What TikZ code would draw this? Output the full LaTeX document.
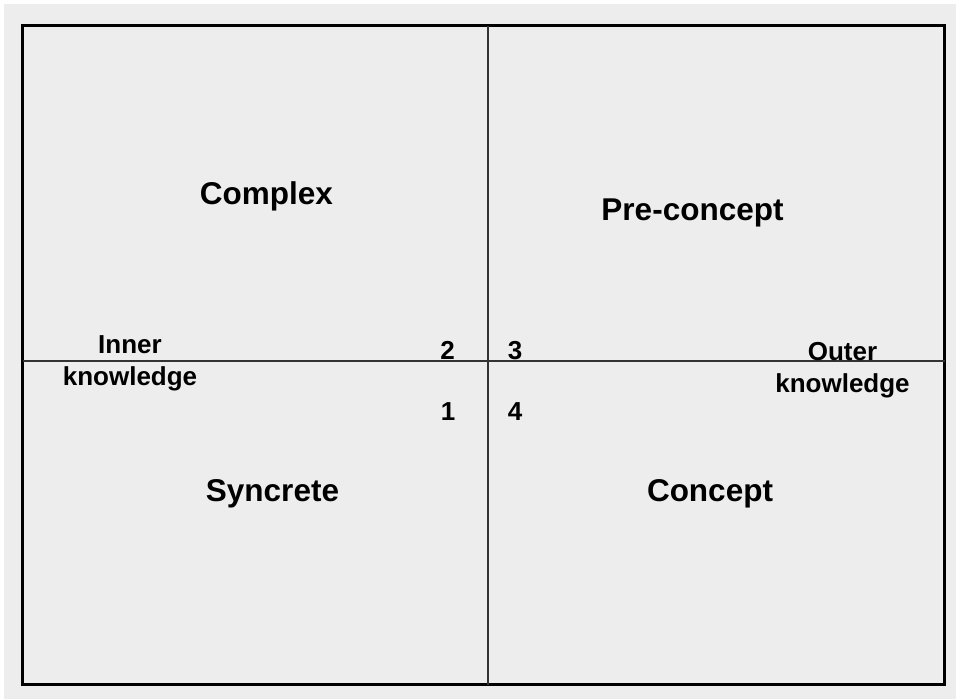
\documentclass[tikz,border=0pt]{standalone}
\usepackage{fontspec}
\setmainfont{Liberation Sans}
\begin{document}
\begin{tikzpicture}[x=1pt,y=-1pt,
  frame/.style={draw=black,line width=3pt},
  axis/.style={draw=black!80,line width=2pt},
  quadlabel/.style={font=\bfseries\fontsize{31.5}{36}\selectfont,inner sep=0pt,anchor=base},
  sidelabel/.style={font=\bfseries\fontsize{26}{32}\selectfont,inner sep=0pt,align=center,anchor=base},
  numlabel/.style={font=\bfseries\fontsize{26}{30}\selectfont,inner sep=0pt,anchor=base}]
  % page and panel background
  \useasboundingbox (0,0) rectangle (956,699);
  \fill[white] (0,0) rectangle (956,699);
  \fill[black!7] (4,4) rectangle (956,699);

  % outer frame
  \coordinate (tl) at (22.5,25.5);
  \coordinate (br) at (944.5,684.5);
  \draw[frame] (tl) rectangle (br);

  % dividing axes
  \coordinate (top) at (487.5,25.5);
  \coordinate (bottom) at (487.5,684.5);
  \coordinate (left) at (22.5,360.5);
  \coordinate (right) at (944.5,360.5);
  \draw[axis] (top) -- (bottom);
  \draw[axis] (left) -- (right);

  % quadrant names
  \node[quadlabel] (complex) at (266.5,204.5) {Complex};
  \node[quadlabel] (preconcept) at (692.5,220.5) {Pre-concept};
  \node[quadlabel] (syncrete) at (272.5,501) {Syncrete};
  \node[quadlabel] (concept) at (710,501) {Concept};

  % axis ends (anchored on the baseline of the last line)
  \node[sidelabel] (inner) at (130,385) {Inner\\knowledge};
  \node[sidelabel] (outer) at (842.5,392.5) {Outer\\knowledge};

  % quadrant numbers
  \node[numlabel] (n2) at (447.7,359.5) {2};
  \node[numlabel] (n3) at (515,359.5) {3};
  \node[numlabel] (n1) at (448,420) {1};
  \node[numlabel] (n4) at (515,420) {4};
\end{tikzpicture}
\end{document}
